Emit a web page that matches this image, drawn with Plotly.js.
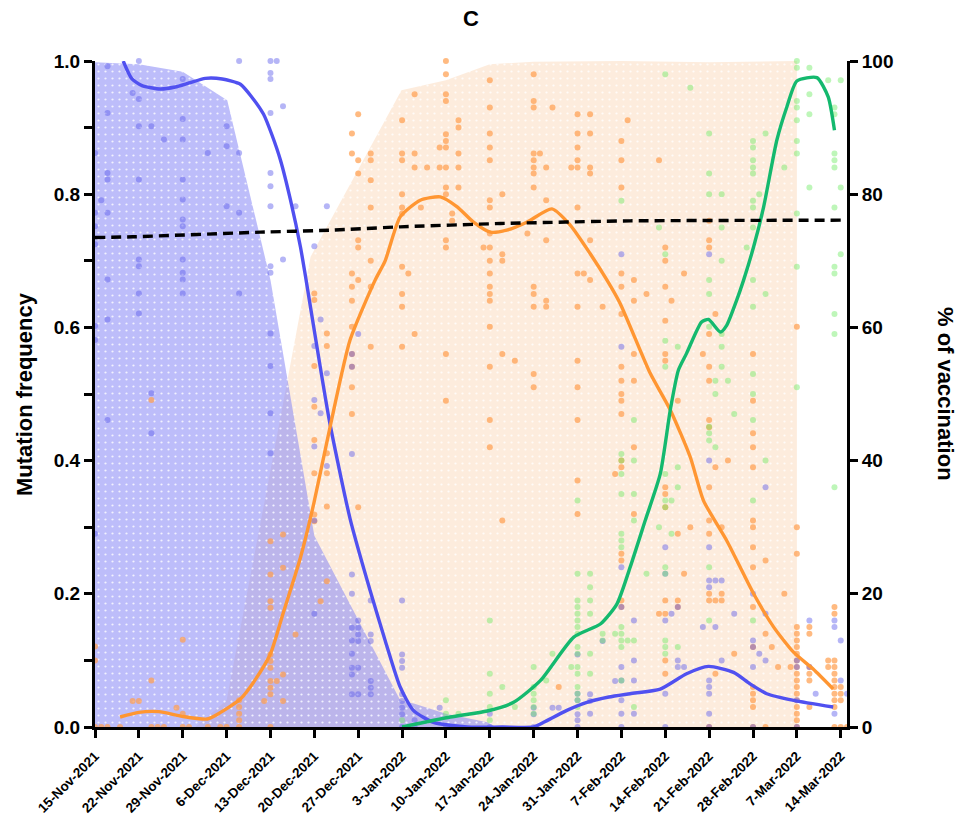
<!DOCTYPE html>
<html>
<head>
<meta charset="utf-8">
<script src="https://cdn.plot.ly/plotly-3.0.1.min.js"></script>
<style>html,body{margin:0;padding:0;background:#fff;}#chart{width:963px;height:822px;}</style>
</head>
<body>
<div id="chart"></div>
<script>
// ---- data (days counted from 15-Nov-2021) ----
const tickDates = ['2021-11-15','2021-11-22','2021-11-29','2021-12-06','2021-12-13','2021-12-20','2021-12-27','2022-01-03','2022-01-10','2022-01-17','2022-01-24','2022-01-31','2022-02-07','2022-02-14','2022-02-21','2022-02-28','2022-03-07','2022-03-14'];
const tickLabels = ['15-Nov-2021','22-Nov-2021','29-Nov-2021','6-Dec-2021','13-Dec-2021','20-Dec-2021','27-Dec-2021','3-Jan-2022','10-Jan-2022','17-Jan-2022','24-Jan-2022','31-Jan-2022','7-Feb-2022','14-Feb-2022','21-Feb-2022','28-Feb-2022','7-Mar-2022','14-Mar-2022'];

// shaded areas
const blueAreaDays = [0, 7, 14, 21.1, 28, 35, 48.7, 51, 56, 62.6, 64];
const blueAreaVals = [0.998, 0.995, 0.984, 0.941, 0.671, 0.287, 0.04, 0.035, 0.02, 0.007, 0];
const orangeAreaDays = [16, 21, 28, 34.4, 42, 48.9, 56, 63, 70, 84, 98, 112];
const orangeAreaVals = [0, 0.04, 0.385, 0.706, 0.837, 0.956, 0.971, 0.995, 0.999, 1.0, 0.998, 1.0];

// smoothed lines
const blueLineDays = [4.5, 5.9, 7.5, 10.4, 12.8, 15, 17.6, 20.3, 23.2, 25, 26.9, 28.2, 29.6, 31.2, 32.8, 33.6, 35, 37.4, 40.7, 43.9, 46.3, 48.7, 50.8, 54, 59.4, 65, 70, 71.6, 75.3, 78.5, 82, 85.4, 90.2, 94.4, 97.9, 101.9, 104.5, 107.2, 111.5, 117.8];
const blueLineVals = [1.0, 0.973, 0.963, 0.958, 0.961, 0.967, 0.974, 0.973, 0.965, 0.946, 0.92, 0.89, 0.851, 0.791, 0.72, 0.676, 0.595, 0.46, 0.313, 0.205, 0.13, 0.06, 0.025, 0.007, 0, 0, 0, 0.007, 0.025, 0.037, 0.045, 0.05, 0.057, 0.08, 0.091, 0.082, 0.065, 0.05, 0.04, 0.03];
const orangeLineDays = [4, 7, 10.2, 13.9, 17.9, 19.7, 23.2, 25.5, 28, 30, 32.8, 34.9, 37.5, 40.7, 44.7, 46.3, 48.7, 51.9, 55.1, 57.8, 60.4, 63.1, 65.7, 68.9, 72.9, 75.8, 79, 81.7, 83.8, 88.6, 91.8, 95, 97.1, 100.8, 105.1, 108.3, 111.5, 114.6, 117.8];
const orangeLineVals = [0.015, 0.022, 0.023, 0.016, 0.012, 0.02, 0.042, 0.07, 0.11, 0.17, 0.255, 0.335, 0.45, 0.581, 0.671, 0.70, 0.766, 0.791, 0.796, 0.781, 0.758, 0.743, 0.746, 0.758, 0.778, 0.754, 0.711, 0.671, 0.636, 0.531, 0.476, 0.405, 0.34, 0.28, 0.2, 0.15, 0.112, 0.087, 0.057];
const greenLineDays = [49, 56.7, 62.6, 66.8, 71.1, 76.4, 80.7, 83.3, 85.4, 87.8, 90.2, 91.8, 93.1, 94.4, 96.8, 97.9, 99.8, 100.8, 102.4, 103.5, 105.1, 106.7, 108.8, 110.4, 112, 115.2, 117, 118];
const greenLineVals = [0.0, 0.015, 0.024, 0.037, 0.07, 0.135, 0.155, 0.185, 0.24, 0.31, 0.38, 0.476, 0.536, 0.561, 0.608, 0.612, 0.593, 0.603, 0.641, 0.671, 0.721, 0.781, 0.881, 0.931, 0.97, 0.975, 0.946, 0.896];

// vaccination (%), right axis
const vaccDays = [0, 6, 26.4, 37.6, 48.7, 64.7, 85.4, 119];
const vaccVals = [73.5, 73.6, 74.3, 74.6, 75.1, 75.6, 76.0, 76.1];

// individual samples: [day, values...]
const blueDots = [
 [0,.862,.772,.752,.725,.602,.581,.29],[1,.791],[2,.992,.922,.832,.822,.772,.672,.612,.461],[6,.952],
 [7,1.0,.943,.902,.822,.702,.692,.651,.621],[9,.902,.501,.441],[11,.882],
 [14,.973,.913,.882,.822,.792,.762,.752,.702,.682,.672,.651],[18,.862],[21,.902,.872,.782],
 [23,1.0,.862,.772,.651],[28,1.0,.982,.973,.922,.832,.812,.782,.692,.682,.591,.542,.471,.411],[29,1.0],
 [30,.932,.702],[32,.782],[35,.722,.572,.491,.421,.31,.17],[36,.612,.471],[37,.782,.531,.392],
 [41,.56,.541,.41,.229,.20,.149,.13,.11,.089,.079,.049],[42,.59,.16,.149,.139,.129,.089,.049],
 [44,.19,.139,.129,.069,.059,.049],[49,.19,.109,.099,.089,.049,.039,.029,.019,0],[51,.01,0],[55,.029],[56,0],
 [63,.02,0],[70,.029,.019,0],[73,.029],[74,.029],[77,.109,.05,.04,.019,.01,0],[79,.049,.039,.02],
 [81,.129],[83,.069],[84,.71,.571,.24,.18,.09,.07,.04,.02,0],[86,.16,.10,.07,.02],[91,.27,.23,.16,.05,0],
 [92,.17],[93,.18,.10,.09],[94,.09],[97,.15],[98,.71,.40,.27,.22,.21,.07,.06,.05,.02,0],[99,.22,.15],
 [100,.22,.10],[102,.17],[105,.20,.13,.12,.09,0],[106,.11],[107,.36,.17,.10],[112,.10,.09,.04,0],
 [114,.16,.09],[115,.05],[118,.16,.15,.02],[119,.13,.07],[120,.05]
];
const orangeDots = [
 [0,.121,.10,0],[1,0],[2,0],[4,0],[6,.039],[7,.039],[9,.491,.07,0],[10,0],[11,0],[13,.029],
 [14,.131,.02,0],[15,0],[18,0],[20,0],[21,0],[23,.04,.03,.02,.01,0],[27,.039],
 [28,.279,.229,.189,.179,.109,.099,.089,.069,.059,.049,0],[29,.069],[30,.289,.239,.079,.039],[32,.139],
 [35,.651,.641,.542,.481,.431,.381,.319,.309],[36,.189],[37,.591,.572,.411,.381,.331,.219],
 [41,.891,.861,.681,.661,.64,.601,.56,.541,.51,.47],[42,.92,.851,.831,.731,.72,.671,.33],
 [44,.861,.851,.821,.78,.70,.661,.571],[49,.911,.861,.851,.80,.78,.771,.691,.65,.631,.571],[50,.681],
 [51,.95,.861,.84,.59],[52,.78],[53,.84],[55,.87,.84],
 [56,1.0,.98,.95,.94,.89,.88,.87,.84,.81,.80,.731,.72,.56,.49],[57,.771,.76],[58,.911,.90,.861,.84,.81],
 [62,.72],[63,.971,.93,.891,.87,.851,.791,.78,.741,.72,.70,.681,.661,.65,.64,.601,.541,.461,.42],
 [65,.80,.71,.70,.56,.31],[67,.55],[69,.741],[70,.98,.94,.93,.861,.851,.84,.831,.81,.661,.65,.631,.53,.51],
 [71,.861],[72,.84,.791,.731,.64,.631],[73,.93],[74,.06],[76,.84],
 [77,.92,.891,.87,.851,.84,.78,.681,.631,.55,.51,.461,.37,.32],[78,.681],[79,.92,.891,.84,.831,.731,.671],
 [81,.631],[83,.38],[84,.88,.851,.81,.681,.661,.62,.541,.52,.50,.49,.47,.40,.39,.26,.25,.19,.18],[85,.911],
 [86,.671,.64,.56,.52,.42,.32],[88,.65],[90,.851,.17],[91,.72,.70,.661,.61,.56,.55,.36,.35,.33,.19,.17,.10,.08],
 [92,.64],[93,.49,.29,.19,.18],[94,.681,.23],[95,.30],[97,.56],
 [98,.76,.731,.72,.59,.541,.52,.461,.45,.36,.31,.29,.20,.19,0],[99,.62,.39,.19,.08],[100,.30,.20,.19],
 [101,.40],[102,.11],[105,.56,.49,.441,.42,.39,.31,.30,.27,.24,.18,.12,.06,.05,.04,.03,0],[107,.25,.14,0],
 [108,.12],[109,.09],[110,.20],[111,.09],
 [112,.601,.30,.26,.15,.14,.13,.12,.11,.10,.09,.08,.07,.06,.05,.04,.03,.02,.01,0],[114,.15,.14,.09,.08,.07,.03],
 [117,.10,.09],[118,.18,.17,.10,.09,.08,.07,.06,.05,.04,.03,0],[119,.06,.05,.04,0],[120,0]
];
const greenDots = [
 [49,.01],[56,.04,.02],[58,.02],[63,.16,.08,.05,.03,.01],[65,.06],[67,.03],[70,.09,.06,.05,.04,.03,.02],
 [72,.07],[73,.11],[76,.09],[77,.34,.23,.19,.18,.17,.16,.15,.14,.12,.11,.09,.08,.06,.05,.04,.03],
 [79,.23,.21,.19,.17,.11,.08],[81,.14,.13],[83,.14],[84,.79,.41,.40,.38,.35,.29,.28,.27,.15,.14,.13,.12,.07],
 [85,.13],[86,.461,.40,.35,.31,.13,.03],[88,.23],[90,.75,.30],[91,.98,.71,.58,.541,.38,.34,.33,.24,.23,.13,.12,.11],
 [92,.34,.29],[93,.571,.39,.36,.12],[95,.96],[98,.891,.831,.80,.671,.65,.601,.451,.441,.43,.24,.16],
 [99,.52,.50,.42],[100,.80,.75,.70,.59,.571,.541],[101,.52],[102,.47],[104,.72],
 [105,.88,.87,.851,.84,.831,.79,.78,.75,.671,.631,.53,.50,.461,.34,.16],[106,.80],[107,.891,.65,.40],[110,.84],
 [112,1.0,.99,.94,.93,.911,.88,.861,.771,.691,.51],[114,.99,.95,.92,.81],[117,.971],
 [118,.93,.92,.861,.851,.84,.78,.691,.681,.62,.59,.36],[119,.971,.81,.71]
];

// ---- helpers ----
const START = Date.UTC(2021, 10, 15);
function d2s(d) { return new Date(START + d * 86400000).toISOString().slice(0, 19).replace('T', ' '); }
function flat(cols) {
  const x = [], y = [];
  cols.forEach(c => { for (let i = 1; i < c.length; i++) { x.push(d2s(c[0])); y.push(c[i]); } });
  return {x, y};
}

const bD = flat(blueDots), oD = flat(orangeDots), gD = flat(greenDots);

const pat = (bg) => ({shape: '.', fgcolor: 'white', fgopacity: 0.8, bgcolor: bg, size: 7, solidity: 0.08});

const traces = [
  {x: orangeAreaDays.map(d2s), y: orangeAreaVals, mode: 'lines', fill: 'tozeroy', line: {width: 0, color: 'rgba(0,0,0,0)'},
   fillcolor: 'rgb(253,236,221)', fillpattern: pat('rgb(253,236,221)'), hoverinfo: 'skip'},
  {x: blueAreaDays.map(d2s), y: blueAreaVals, mode: 'lines', fill: 'tozeroy', line: {width: 0, color: 'rgba(0,0,0,0)'},
   fillcolor: 'rgba(138,138,246,0.56)', fillpattern: pat('rgba(138,138,246,0.56)'), hoverinfo: 'skip'},
  {x: oD.x, y: oD.y, mode: 'markers', marker: {size: 6, color: 'rgba(255,160,80,0.72)'}, cliponaxis: false},
  {x: bD.x, y: bD.y, mode: 'markers', marker: {size: 6, color: 'rgba(90,90,235,0.45)'}, cliponaxis: false},
  {x: gD.x, y: gD.y, mode: 'markers', marker: {size: 6, color: 'rgba(110,235,100,0.45)'}, cliponaxis: false},
  {x: blueLineDays.map(d2s), y: blueLineVals, mode: 'lines', line: {color: 'rgb(80,80,240)', width: 3.4, shape: 'spline', smoothing: 0.6}, cliponaxis: false},
  {x: orangeLineDays.map(d2s), y: orangeLineVals, mode: 'lines', line: {color: 'rgb(255,150,50)', width: 3.4, shape: 'spline', smoothing: 0.6}, cliponaxis: false},
  {x: greenLineDays.map(d2s), y: greenLineVals, mode: 'lines', line: {color: 'rgb(20,185,110)', width: 3.4, shape: 'spline', smoothing: 0.6}, cliponaxis: false},
  {x: vaccDays.map(d2s), y: vaccVals, yaxis: 'y2', mode: 'lines', line: {color: 'black', width: 3.4, dash: '10px,6px', shape: 'spline', smoothing: 0.4}}
];

const bold = {family: 'Liberation Sans, Arial, sans-serif', weight: 700, color: 'black'};
const yTickVals = [0, 0.1, 0.2, 0.3, 0.4, 0.5, 0.6, 0.7, 0.8, 0.9, 1.0];
const yTickText = ['0.0', '', '0.2', '', '0.4', '', '0.6', '', '0.8', '', '1.0'];
const y2TickVals = [0, 20, 40, 60, 80, 100];

const layout = {
  width: 963, height: 822,
  margin: {l: 95, r: 116, t: 61, b: 95},
  paper_bgcolor: 'white', plot_bgcolor: 'white',
  showlegend: false,
  font: {family: 'Liberation Sans, Arial, sans-serif', color: 'black'},
  title: {text: 'C', font: Object.assign({size: 22}, bold), x: 0.5, xref: 'paper', xanchor: 'center', y: 1 - 18 / 822, yref: 'container', yanchor: 'middle'},
  xaxis: {type: 'date', range: [d2s(0), d2s(120)], tickmode: 'array', tickvals: tickDates, ticktext: tickLabels,
    tickangle: -45, tickfont: Object.assign({size: 13.5}, bold), ticks: 'outside', ticklen: 8, tickwidth: 3, tickcolor: 'black',
    ticklabelstandoff: 5,
    showline: true, linewidth: 3, linecolor: 'black', showgrid: false, zeroline: false},
  yaxis: {range: [0, 1], tickmode: 'array', tickvals: yTickVals, ticktext: yTickText, tickfont: Object.assign({size: 19}, bold),
    ticks: 'outside', ticklen: 8, tickwidth: 3, tickcolor: 'black', showline: true, linewidth: 3, linecolor: 'black',
    showgrid: false, zeroline: false},
  yaxis2: {overlaying: 'y', side: 'right', anchor: 'x', range: [0, 100], tickmode: 'array', tickvals: y2TickVals,
    tickfont: Object.assign({size: 19}, bold), ticks: 'outside', ticklen: 8, tickwidth: 3, tickcolor: 'black',
    showline: true, linewidth: 3, linecolor: 'black', showgrid: false, zeroline: false},
  annotations: [
    {text: 'Mutation frequency', xref: 'paper', yref: 'paper', x: (24 - 95) / 752, y: 0.5, xanchor: 'center', yanchor: 'middle',
     textangle: -90, showarrow: false, font: Object.assign({size: 22}, bold)},
    {text: '% of vaccination', xref: 'paper', yref: 'paper', x: (946 - 95) / 752, y: 0.5, xanchor: 'center', yanchor: 'middle',
     textangle: 90, showarrow: false, font: Object.assign({size: 22}, bold)}
  ]
};

Plotly.newPlot('chart', traces, layout, {displayModeBar: false, staticPlot: true});
</script>
</body>
</html>
